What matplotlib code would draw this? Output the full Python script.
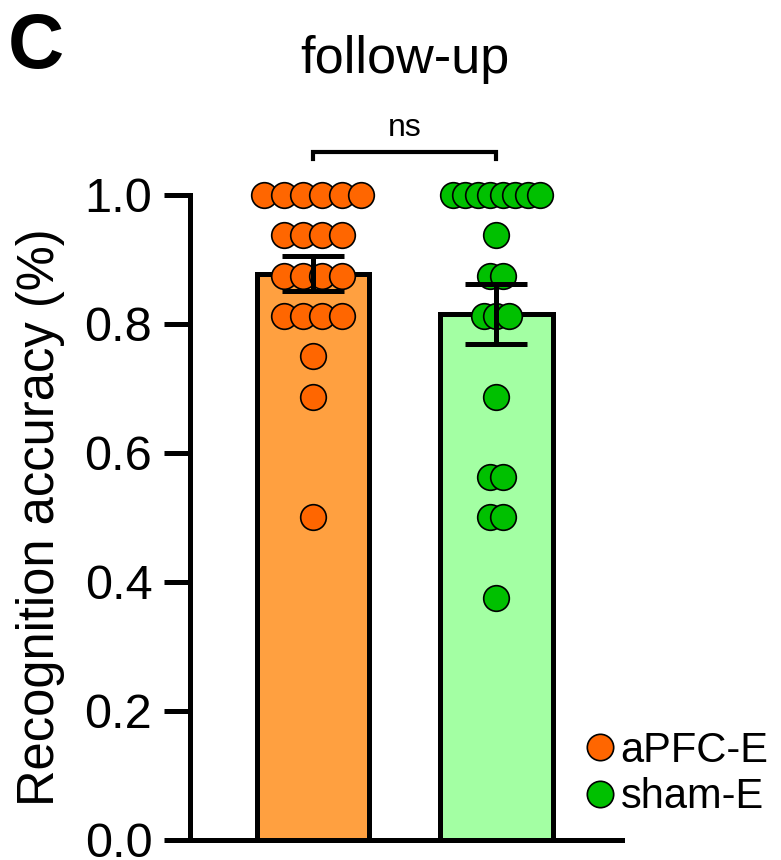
import numpy as np
import matplotlib
matplotlib.use('Agg')
import matplotlib.pyplot as plt
from matplotlib.lines import Line2D

plt.rcParams['font.family'] = ['Liberation Sans', 'DejaVu Sans']

# Recognition accuracy per subject at follow-up
groups = ['aPFC-E', 'sham-E']
apfc = [1.0] * 6 + [0.9375] * 4 + [0.875] * 4 + [0.8125] * 4 + [0.75, 0.6875, 0.5]
sham = [1.0] * 8 + [0.9375] + [0.875] * 2 + [0.8125] * 3 + [0.6875] + [0.5625] * 2 + [0.5] * 2 + [0.375]

bar_colors = ['#FFA040', '#A3FFA3']
dot_colors = ['#FF6600', '#00C000']


def spread(values, step, max_span=0.53):
    # spread tied values horizontally around the group centre
    values = np.asarray(values)
    offs = np.zeros(len(values))
    for v in np.unique(values):
        idx = np.where(values == v)[0]
        n = len(idx)
        s = min(step, max_span / (n - 1)) if n > 1 else 0
        offs[idx] = (np.arange(n) - (n - 1) / 2) * s
    return offs


fig = plt.figure(figsize=(7.81, 8.6), dpi=100)
ax = fig.add_axes([0.243, 0.0233, 0.554, 0.75])

data = [apfc, sham]
steps = [0.105, 0.068]
for i, vals in enumerate(data):
    vals = np.asarray(vals)
    mean = vals.mean()
    sem = vals.std(ddof=1) / np.sqrt(len(vals))
    ax.bar(i, mean, width=0.61, color=bar_colors[i], edgecolor='black',
           linewidth=3.6, zorder=1)
    ax.scatter(i + spread(vals, steps[i]), vals, s=340, color=dot_colors[i],
               edgecolor='black', linewidth=1.2, zorder=3, clip_on=False)
    ax.errorbar(i, mean, yerr=sem, color='black', capsize=22, capthick=3.6,
                elinewidth=3.6, zorder=4)

# significance bracket
ax.plot([0, 0, 1, 1], [1.056, 1.067, 1.067, 1.056], color='black', lw=3,
        clip_on=False, solid_joinstyle='miter')
ax.text(0.5, 1.08, 'ns', ha='center', va='bottom', fontsize=23)

ax.set_xlim(-0.668, 1.685)
ax.set_ylim(0, 1.0)
ax.set_yticks([0.0, 0.2, 0.4, 0.6, 0.8, 1.0])
ax.set_yticklabels(['0.0', '0.2', '0.4', '0.6', '0.8', '1.0'])
ax.set_xticks([])
ax.spines['top'].set_visible(False)
ax.spines['right'].set_visible(False)
for sp in ['left', 'bottom']:
    ax.spines[sp].set_linewidth(3.6)
ax.tick_params(axis='y', length=19, width=3.6, labelsize=35, pad=8)
ax.set_ylabel('Recognition accuracy (%)', fontsize=36.5, labelpad=14)

fig.text(0.519, 0.931, 'follow-up', ha='center', va='center', fontsize=37.5)
fig.text(0.01, 0.945, 'C', ha='left', va='center', fontsize=56,
         fontweight='bold')

handles = [Line2D([], [], marker='o', ls='', markersize=19,
                  markerfacecolor=c, markeredgecolor='black',
                  markeredgewidth=1.2) for c in dot_colors]
fig.legend(handles, groups, loc='center left', bbox_to_anchor=(0.72, 0.1),
           frameon=False, fontsize=30, handletextpad=0.0, labelspacing=0.15,
           handlelength=1.0, borderaxespad=0)

fig.savefig('out.png', dpi=100)
